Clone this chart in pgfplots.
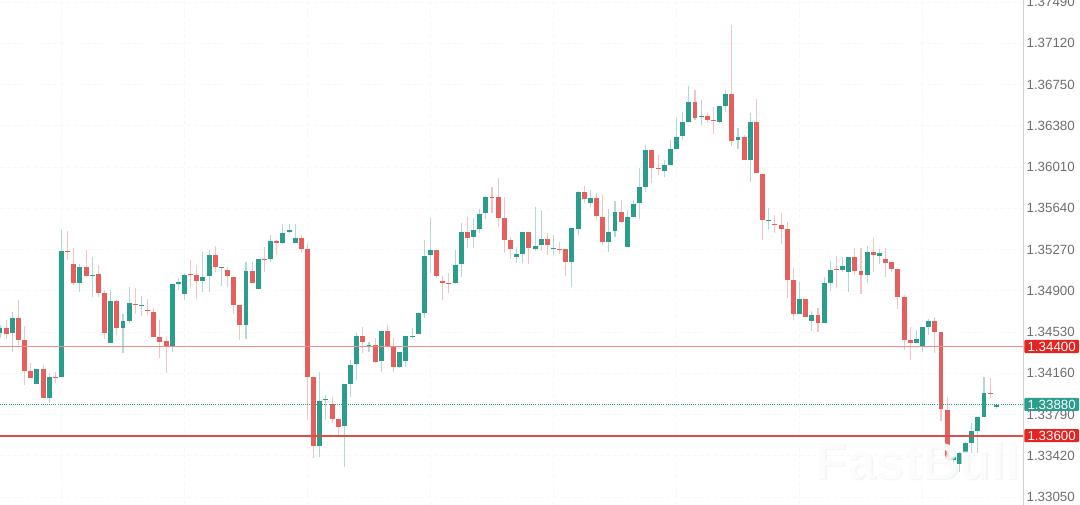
\documentclass[border=0pt]{standalone}
\usepackage{fontspec}
\setmainfont{Liberation Sans}
\usepackage{pgfplots}
\usepackage{pgfplotstable}
\pgfplotsset{compat=1.18}
\definecolor{upc}{HTML}{2A9D8C}
\definecolor{dnc}{HTML}{E5605C}
\definecolor{upw}{HTML}{B4D9D3}
\definecolor{dnw}{HTML}{F4C4C2}
\definecolor{tagr}{HTML}{E5231F}
\definecolor{tagg}{HTML}{2A9D8C}
\definecolor{lab}{HTML}{6E6E6E}
\definecolor{lvlA}{HTML}{EE8E8A}
\definecolor{lvlB}{HTML}{DC4C48}
\pgfplotstableread{
i top bot hi lo
0 1.34566 1.34521 1.34593 1.34476
2 1.34655 1.34521 1.34709 1.34351
6 1.34198 1.34063 1.34198 1.34063
8 1.34126 1.33938 1.34162 1.33893
10 1.35257 1.34126 1.35445 1.34126
13 1.35113 1.34969 1.35140 1.34889
15 1.35041 1.35032 1.35203 1.34844
18 1.34808 1.34431 1.34907 1.34431
20 1.34629 1.34566 1.34691 1.34342
21 1.34790 1.34629 1.34934 1.34611
23 1.34772 1.34763 1.34853 1.34673
28 1.34960 1.34404 1.34960 1.34351
29 1.34978 1.34960 1.35014 1.34907
30 1.35041 1.34871 1.35059 1.34817
33 1.35023 1.34987 1.35248 1.34889
34 1.35221 1.35032 1.35266 1.34889
36 1.35113 1.35104 1.35113 1.34942
40 1.35077 1.34593 1.35158 1.34467
42 1.35185 1.34916 1.35185 1.34916
44 1.35346 1.35185 1.35400 1.35158
46 1.35418 1.35328 1.35499 1.35319
47 1.35445 1.35427 1.35499 1.35418
48 1.35373 1.35328 1.35499 1.35328
52 1.33911 1.33508 1.34171 1.33409
53 1.33929 1.33920 1.33965 1.33741
56 1.34063 1.33687 1.34063 1.33319
57 1.34234 1.34063 1.34279 1.33947
58 1.34494 1.34243 1.34521 1.34099
60 1.34413 1.34404 1.34440 1.34351
62 1.34539 1.34270 1.34539 1.34171
65 1.34351 1.34216 1.34351 1.34207
66 1.34494 1.34270 1.34494 1.34216
67 1.34494 1.34485 1.34566 1.34476
68 1.34700 1.34512 1.34709 1.34512
69 1.35212 1.34700 1.35355 1.34655
70 1.35266 1.35221 1.35553 1.35059
74 1.35131 1.34969 1.35266 1.34960
75 1.35427 1.35140 1.35508 1.35023
77 1.35445 1.35382 1.35553 1.35284
78 1.35588 1.35454 1.35633 1.35418
79 1.35741 1.35597 1.35750 1.35544
84 1.35230 1.35203 1.35293 1.35149
85 1.35427 1.35230 1.35427 1.35149
87 1.35302 1.35275 1.35651 1.35257
88 1.35364 1.35310 1.35624 1.35257
90 1.35284 1.35275 1.35400 1.35221
93 1.35463 1.35158 1.35463 1.34934
94 1.35786 1.35454 1.35795 1.35400
96 1.35732 1.35687 1.35804 1.35651
99 1.35427 1.35337 1.35633 1.35248
100 1.35606 1.35436 1.35705 1.35382
102 1.35562 1.35293 1.35624 1.35293
103 1.35678 1.35562 1.35714 1.35562
104 1.35831 1.35687 1.36001 1.35544
105 1.36163 1.35831 1.36207 1.35786
108 1.36028 1.35974 1.36073 1.35920
109 1.36172 1.36028 1.36252 1.36028
110 1.36279 1.36172 1.36450 1.36172
111 1.36414 1.36288 1.36503 1.36252
112 1.36593 1.36414 1.36737 1.36414
114 1.36468 1.36459 1.36611 1.36387
117 1.36557 1.36414 1.36557 1.36405
118 1.36665 1.36557 1.36701 1.36503
120 1.36279 1.36252 1.36360 1.36172
122 1.36414 1.36073 1.36495 1.35875
125 1.35535 1.35526 1.35642 1.35445
130 1.34826 1.34691 1.34978 1.34691
132 1.34682 1.34629 1.34718 1.34539
134 1.34969 1.34611 1.35023 1.34611
135 1.35086 1.34969 1.35167 1.34898
137 1.35122 1.35086 1.35203 1.35068
138 1.35203 1.35068 1.35203 1.34889
141 1.35248 1.35041 1.35302 1.34969
143 1.35239 1.35212 1.35275 1.35140
149 1.34467 1.34431 1.34548 1.34431
150 1.34575 1.34404 1.34575 1.34351
151 1.34629 1.34575 1.34647 1.34503
155 1.33409 1.33382 1.33409 1.33229
156 1.33445 1.33346 1.33454 1.33274
157 1.33535 1.33445 1.33544 1.33445
158 1.33642 1.33535 1.33714 1.33445
159 1.33768 1.33642 1.33768 1.33445
160 1.33983 1.33768 1.34126 1.33768
162 1.33875 1.33857 1.33875 1.33839
}\upcandles
\pgfplotstableread{
i top bot hi lo
1 1.34566 1.34512 1.34638 1.34467
3 1.34655 1.34458 1.34817 1.34413
4 1.34458 1.34180 1.34584 1.34054
5 1.34180 1.34117 1.34252 1.34117
7 1.34198 1.33938 1.34234 1.33938
9 1.34126 1.34117 1.34171 1.34072
11 1.35257 1.35248 1.35436 1.35176
12 1.35140 1.34969 1.35284 1.34951
14 1.35113 1.35032 1.35266 1.35023
16 1.35050 1.34880 1.35131 1.34844
17 1.34880 1.34521 1.34907 1.34467
19 1.34808 1.34566 1.34817 1.34503
22 1.34781 1.34772 1.34925 1.34691
24 1.34727 1.34718 1.34826 1.34682
25 1.34709 1.34485 1.34745 1.34485
26 1.34485 1.34440 1.34638 1.34297
27 1.34449 1.34404 1.34485 1.34162
31 1.35050 1.35041 1.35176 1.34934
32 1.35041 1.34987 1.35131 1.34826
35 1.35221 1.35113 1.35302 1.35068
37 1.35086 1.35032 1.35113 1.34934
38 1.35023 1.34772 1.35023 1.34691
39 1.34772 1.34593 1.34772 1.34458
41 1.35077 1.34969 1.35158 1.34969
43 1.35185 1.35176 1.35293 1.35068
45 1.35346 1.35328 1.35355 1.35221
49 1.35373 1.35275 1.35400 1.35239
50 1.35275 1.34126 1.35328 1.33741
51 1.34126 1.33508 1.34126 1.33400
54 1.33884 1.33750 1.33947 1.33714
55 1.33750 1.33678 1.33750 1.33606
59 1.34494 1.34440 1.34575 1.34342
61 1.34413 1.34261 1.34476 1.34252
63 1.34539 1.34404 1.34593 1.34395
64 1.34404 1.34216 1.34476 1.34171
71 1.35266 1.35032 1.35266 1.35014
72 1.34987 1.34969 1.35032 1.34817
73 1.34969 1.34960 1.35059 1.34880
76 1.35427 1.35373 1.35562 1.35284
80 1.35741 1.35732 1.35831 1.35597
81 1.35741 1.35553 1.35911 1.35472
82 1.35553 1.35355 1.35741 1.35239
83 1.35355 1.35275 1.35382 1.35185
86 1.35427 1.35284 1.35427 1.35140
89 1.35364 1.35310 1.35418 1.35221
91 1.35275 1.35266 1.35337 1.35230
92 1.35275 1.35158 1.35275 1.35032
95 1.35786 1.35723 1.35840 1.35687
97 1.35732 1.35570 1.35777 1.35544
98 1.35562 1.35337 1.35759 1.35310
101 1.35606 1.35517 1.35714 1.35508
106 1.36163 1.36001 1.36163 1.35866
107 1.36001 1.35992 1.36118 1.35938
113 1.36593 1.36450 1.36701 1.36432
115 1.36468 1.36432 1.36495 1.36405
116 1.36432 1.36423 1.36548 1.36306
119 1.36665 1.36243 1.37284 1.36198
121 1.36279 1.36073 1.36297 1.36073
123 1.36414 1.35956 1.36620 1.35956
124 1.35947 1.35535 1.35947 1.35355
126 1.35499 1.35490 1.35580 1.35418
127 1.35490 1.35454 1.35597 1.35319
128 1.35454 1.34996 1.35517 1.34835
129 1.34996 1.34691 1.35104 1.34638
131 1.34826 1.34665 1.34826 1.34665
133 1.34682 1.34611 1.34745 1.34530
136 1.35095 1.35086 1.35212 1.34925
139 1.35203 1.35077 1.35284 1.35041
140 1.35077 1.35041 1.35284 1.34871
142 1.35248 1.35221 1.35373 1.35068
144 1.35185 1.35149 1.35284 1.35023
145 1.35158 1.35095 1.35158 1.35068
146 1.35095 1.34844 1.35095 1.34736
147 1.34844 1.34458 1.34862 1.34369
148 1.34458 1.34431 1.34575 1.34279
152 1.34629 1.34530 1.34665 1.34342
153 1.34530 1.33839 1.34530 1.33732
154 1.33830 1.33382 1.33947 1.33355
161 1.33983 1.33974 1.34117 1.33938
}\dncandles
\begin{document}
\begin{tikzpicture}[x=1pt,y=1pt]
\useasboundingbox (0,0) rectangle (810,378.75);
\begin{axis}[
  at={(0,0)},anchor=south west,
  scale only axis,width=767.25pt,height=378.75pt,
  xmin=0,xmax=166.34,ymin=1.32978,ymax=1.37508,
  clip=false,
  axis y line=right,
  axis x line*=bottom,
  x axis line style={draw=none},
  y axis line style={draw=none},
  xtick={10,30,50,70,90,110,130,150},
  xticklabels={},
  ytick={1.3305,1.3342,1.3379,1.3416,1.3453,1.3490,1.3527,1.3564,1.3601,1.3638,1.3675,1.3712,1.3749},
  major tick length=0pt,
  xmajorgrids,ymajorgrids,
  grid style={color=black!3,densely dashed,line width=.5pt},
  yticklabel style={
    /pgf/number format/.cd,fixed,fixed zerofill,precision=5,1000 sep={},assume math mode=true,
    /tikz/.cd,font=\fontsize{10}{12}\selectfont,text=lab,anchor=west,inner sep=0pt,xshift=2.5pt},
]
% right border
\addplot[forget plot,color=black!18,line width=.6pt] coordinates {(166.34,1.32978) (166.34,1.37508)};
% wicks
\addplot[draw=none,mark=none,forget plot,error bars/.cd,y dir=plus,y explicit,error mark=none,
  error bar style={line width=.8pt,color=upw}]
  table[x=i,y=lo,y error expr=\thisrow{hi}-\thisrow{lo}] {\upcandles};
\addplot[draw=none,mark=none,forget plot,error bars/.cd,y dir=plus,y explicit,error mark=none,
  error bar style={line width=.8pt,color=dnw}]
  table[x=i,y=lo,y error expr=\thisrow{hi}-\thisrow{lo}] {\dncandles};
% bodies
\addplot[draw=none,mark=none,forget plot,error bars/.cd,y dir=plus,y explicit,error mark=none,
  error bar style={line width=3.7pt,color=upc}]
  table[x=i,y=bot,y error expr=\thisrow{top}-\thisrow{bot}] {\upcandles};
\addplot[draw=none,mark=none,forget plot,error bars/.cd,y dir=plus,y explicit,error mark=none,
  error bar style={line width=3.7pt,color=dnc}]
  table[x=i,y=bot,y error expr=\thisrow{top}-\thisrow{bot}] {\dncandles};
% levels
\addplot[forget plot,color=lvlA,line width=.9pt] coordinates {(0,1.34400) (166.34,1.34400)};
\addplot[forget plot,color=lvlB,line width=1.6pt] coordinates {(0,1.33600) (166.34,1.33600)};
\addplot[forget plot,color=upc,line width=.6pt,densely dotted] coordinates {(0,1.33880) (166.34,1.33880)};
% watermark
\node[text=black!5,font=\fontsize{39}{39}\selectfont\bfseries,opacity=.8] at (axis cs:149.4,1.33360) {FastBull};
\node[text=white,font=\fontsize{39}{39}\selectfont\bfseries,opacity=.75] at (axis cs:149.1,1.33375) {FastBull};
% tags
\foreach \v/\c in {1.33880/tagg,1.34400/tagr,1.33600/tagr}{
  \edef\tmp{\noexpand\node[fill=\c,text=white,font=\noexpand\fontsize{10}{12}\noexpand\selectfont,inner sep=0pt,
    minimum width=41pt,minimum height=9.8pt,anchor=west,rounded corners=.8pt] at (axis cs:166.34,\v) [xshift=.8pt] {\v};}
  \tmp
}
\end{axis}
\end{tikzpicture}
\end{document}
